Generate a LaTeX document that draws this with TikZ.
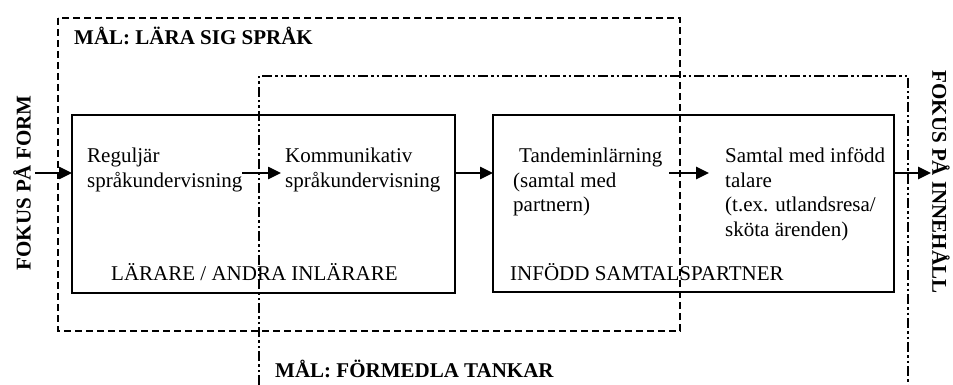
\documentclass[tikz,border=0pt]{standalone}
\usepackage{fontspec}
\setmainfont{Liberation Serif}
\usetikzlibrary{arrows.meta}
\begin{document}
\begin{tikzpicture}[x=1pt,y=-1pt,
  txt/.style={anchor=base west,inner sep=0pt,font=\fontsize{21}{25}\selectfont},
  btxt/.style={txt,font=\fontsize{21}{25}\selectfont\bfseries},
  stagebox/.style={draw,line width=1.5pt,inner sep=0pt},
  goalA/.style={line width=2.6pt,dash pattern=on 7pt off 4pt},
  goalB/.style={line width=2.6pt,dash pattern=on 10pt off 3pt on 2.5pt off 3pt on 2.5pt off 3pt},
  flow/.style={line width=2.5pt,-{Triangle[length=13pt,width=12pt]}}]
\useasboundingbox (0,0) rectangle (953,385);
% goal frames
\draw[goalA] (58,18) rectangle (680,331);
\draw[goalB] (259,385) -- (259,76) -- (908,76) -- (908,385);
% stage boxes
\node[stagebox,minimum width=383pt,minimum height=178pt] (box1) at (263.5,204) {};
\node[stagebox,minimum width=401pt,minimum height=177pt] (box2) at (693.5,203.5) {};
% labels
\node[btxt] (goal1) at (74,45) {MÅL: LÄRA SIG SPRÅK};
\node[btxt] (goal2) at (275,377) {MÅL: FÖRMEDLA TANKAR};
\node[btxt,anchor=center,rotate=90] (form) at (22,183) {FOKUS PÅ FORM};
\node[btxt,anchor=center,rotate=-90] (inneh) at (941,182) {FOKUS PÅ INNEHÅLL};
% box texts
\node[txt] (reg1) at (87,162) {Reguljär};
\node[txt] (reg2) at (87,187) {språkundervisning};
\node[txt] (kom1) at (285,162) {Kommunikativ};
\node[txt] (kom2) at (285,187) {språkundervisning};
\node[txt] (tan1) at (519,162) {Tandeminlärning};
\node[txt] (tan2) at (513,187) {(samtal med};
\node[txt] (tan3) at (513,211) {partnern)};
\node[txt] (sam1) at (725,162) {Samtal med infödd};
\node[txt] (sam2) at (725,187) {talare};
\node[txt] (sam3) at (725,211) {(t.ex. utlandsresa/};
\node[txt] (sam4) at (725,236) {sköta ärenden)};
\node[txt] (lar) at (111,280) {LÄRARE / ANDRA INLÄRARE};
\node[txt] (inf) at (510,280) {INFÖDD SAMTALSPARTNER};
% arrow end points
\coordinate (a1s) at (35,173);
\coordinate (a1e) at (72,173);
\coordinate (a2s) at (242,173);
\coordinate (a2e) at (281,173);
\coordinate (a3s) at (455,173);
\coordinate (a3e) at (493,173);
\coordinate (a4s) at (669,173);
\coordinate (a4e) at (709,173);
\coordinate (a5s) at (894,173);
\coordinate (a5e) at (931,173);
\draw[flow] (a1s) -- (a1e);
\draw[flow] (a2s) -- (a2e);
\draw[flow] (a3s) -- (a3e);
\draw[flow] (a4s) -- (a4e);
\draw[flow] (a5s) -- (a5e);
\end{tikzpicture}
\end{document}
